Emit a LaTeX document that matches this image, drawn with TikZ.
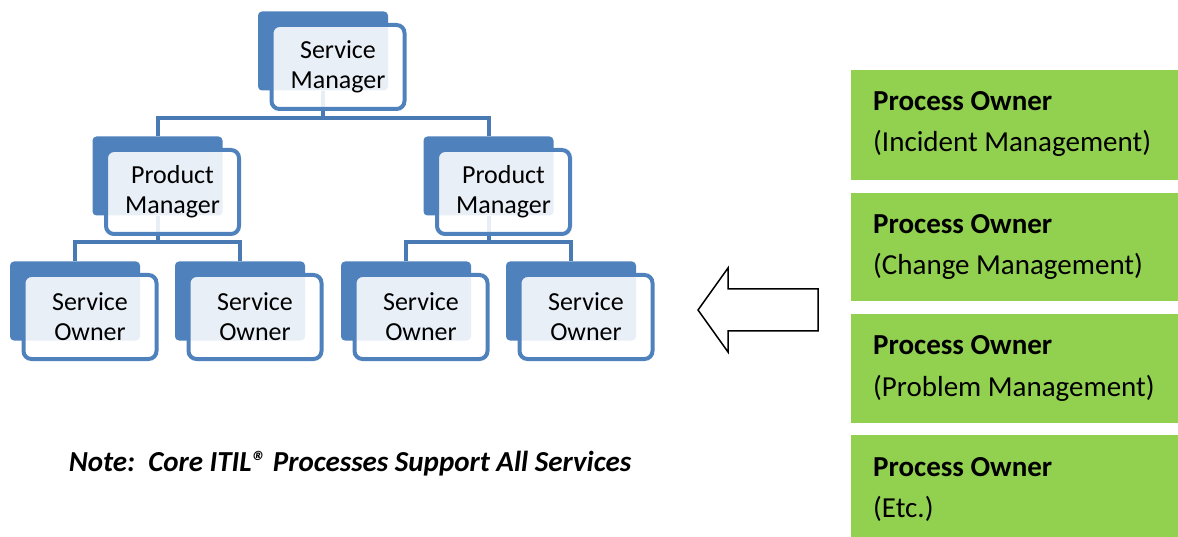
\documentclass[tikz,border=0pt]{standalone}
\usepackage{fontspec}
\setmainfont{Carlito}
\usetikzlibrary{positioning}
\definecolor{itilblue}{HTML}{4F81BD}
\definecolor{itilline}{HTML}{4A7AB3}
\definecolor{itilgreen}{HTML}{92D050}

\begin{document}
\begin{tikzpicture}[x=1pt,y=-1pt,
back/.style={
  fill=itilblue,
  rounded corners=4pt,
  minimum width=130pt,
  minimum height=79pt,
  inner sep=0pt
  },
front/.style={
  draw=itilblue,
  line width=4pt,
  fill=white,
  fill opacity=0.88,
  text opacity=1,
  rounded corners=8pt,
  minimum width=133pt,
  minimum height=84pt,
  align=center,
  font=\fontsize{26}{30}\selectfont
  },
link/.style={
  draw=itilline,
  line width=4pt
  },
proc/.style={
  fill=itilgreen,
  minimum width=327pt,
  inner sep=0pt,
  anchor=north west
  },
ptext/.style={
  anchor=base west,
  inner sep=0pt,
  font=\fontsize{29}{34}\selectfont
  }
]
\useasboundingbox (0,0) rectangle (1178,537);

% back plates
\node[back] (sm-b) at (323,51) {};
\node[back] (pm1-b) at (157.5,176) {};
\node[back] (pm2-b) at (488.5,176) {};
\foreach \nm/\xx in {so1/75,so2/240,so3/406,so4/571}
  \node[back] (\nm-b) at (\xx,301) {};

% connectors
\coordinate (j0) at (323,118);
\coordinate (j1) at (157.5,242);
\coordinate (j2) at (488.5,242);
\draw[link] (sm-b) -- (j0);
\draw[link] (j0) -| (pm1-b);
\draw[link] (j0) -| (pm2-b);
\draw[link] (pm1-b) -- (j1);
\draw[link] (pm2-b) -- (j2);
\foreach \nm in {so1,so2}
  \draw[link] (j1) -| (\nm-b);
\foreach \nm in {so3,so4}
  \draw[link] (j2) -| (\nm-b);

% front boxes
\node[front] (sm) at ([shift={(15,16)}]sm-b.center) {Service\\Manager};
\node[front] (pm1) at ([shift={(15,16)}]pm1-b.center) {Product\\Manager};
\node[front] (pm2) at ([shift={(15,16)}]pm2-b.center) {Product\\Manager};
\foreach \nm in {so1,so2,so3,so4}
  \node[front] (\nm) at ([shift={(15,16)}]\nm-b.center) {Service\\Owner};

% note
\node[font=\fontsize{29}{34}\selectfont\bfseries\itshape] (note) at (350,464)
  {Note:\ \ Core ITIL® Processes Support All Services};

% hollow arrow
\draw[line width=1.5pt,fill=white,line join=miter]
  (698,310) -- (728,268) -- (728,289) -- (818,289) -- (818,331)
  -- (728,331) -- (728,352) -- cycle;

% process owners
\foreach \nm/\yy/\hh/\sub in {po1/70/110/(Incident Management),
                              po2/193/108/(Change Management),
                              po3/314/109/(Problem Management),
                              po4/435/102/(Etc.)}
{
  \node[proc,minimum height=\hh pt] (\nm) at (851,\yy) {};
  \node[ptext,font=\fontsize{29}{34}\selectfont\bfseries] (\nm-t) at (873,\yy+41) {Process Owner};
  \node[ptext] (\nm-s) at (873,\yy+82) {\sub};
}

\end{tikzpicture}
\end{document}
